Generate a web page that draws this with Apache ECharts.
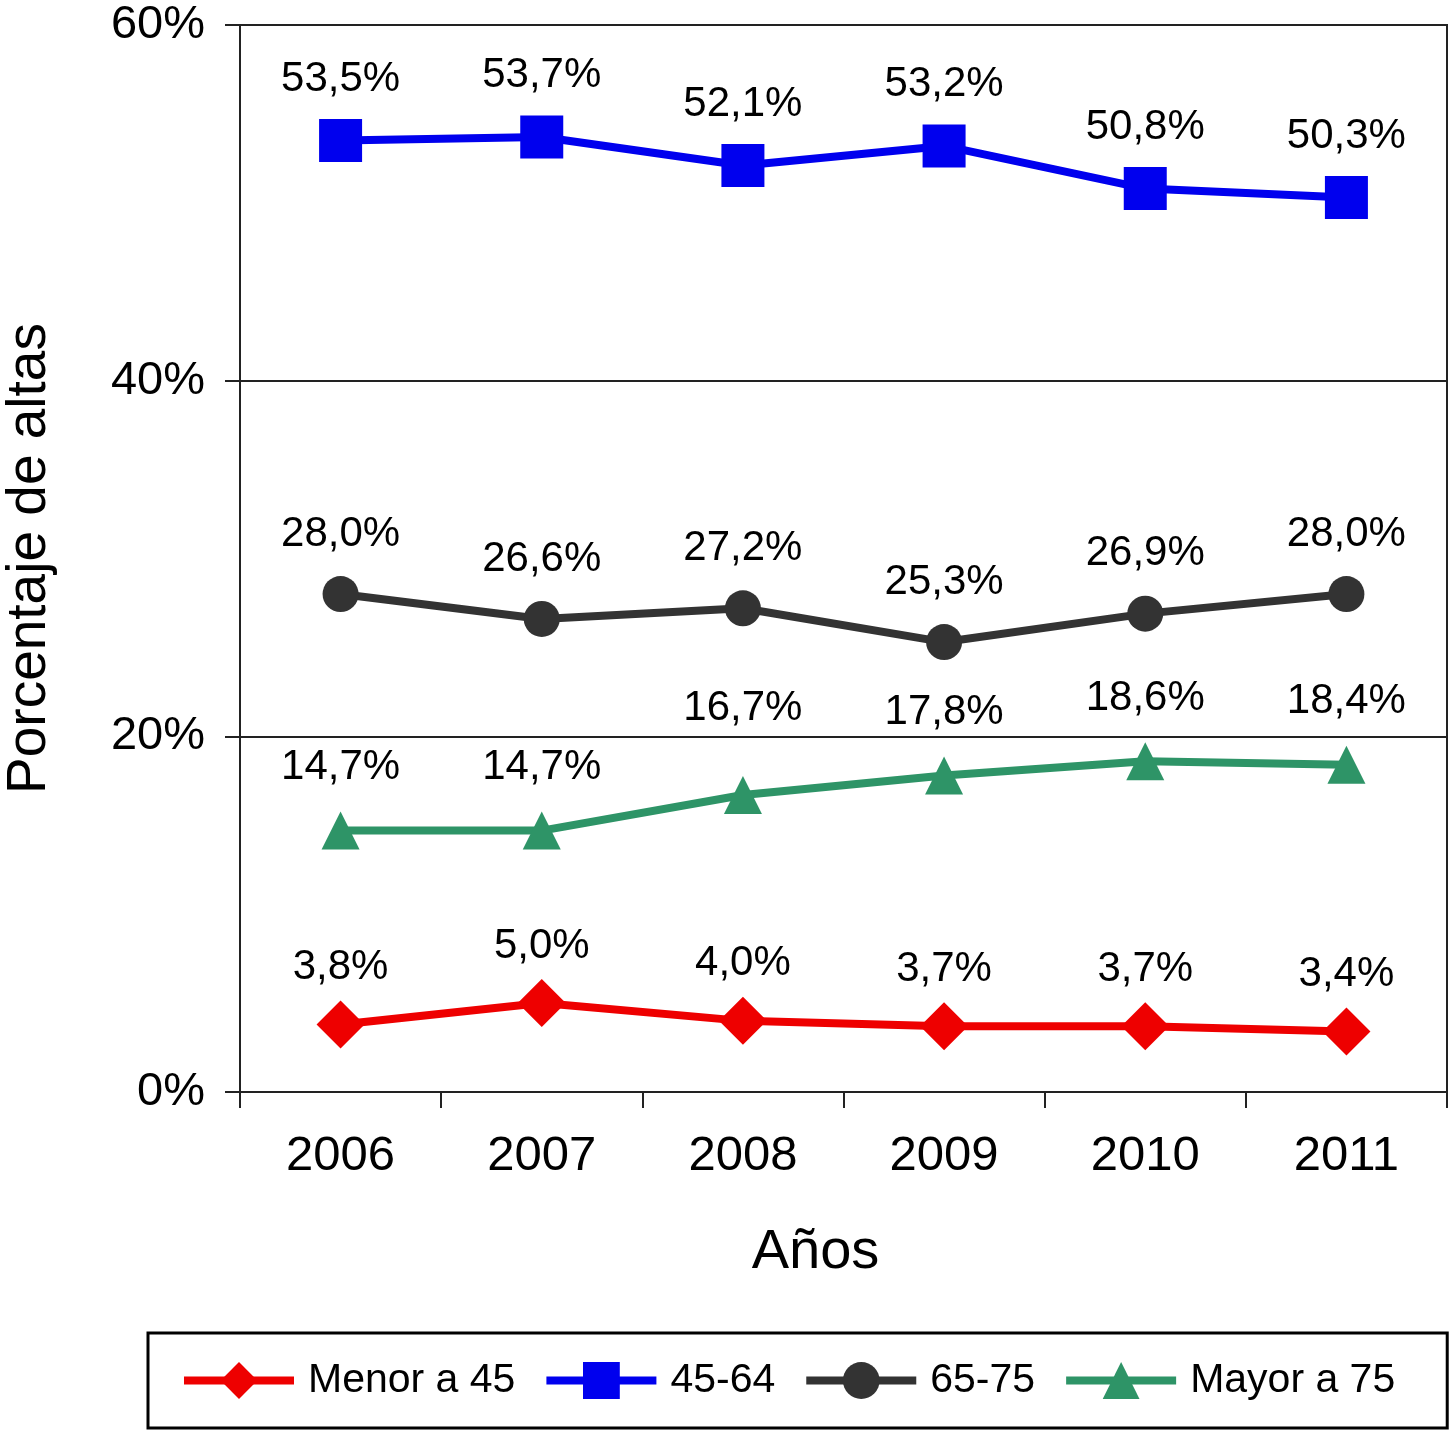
<!DOCTYPE html>
<html>
<head>
<meta charset="utf-8">
<script src="https://cdn.jsdelivr.net/npm/echarts@6/dist/echarts.min.js"></script>
<style>
html,body{margin:0;padding:0;background:#fff;}
#chart{width:1451px;height:1431px;}
</style>
</head>
<body>
<div id="chart"></div>
<script>
const years = ['2006', '2007', '2008', '2009', '2010', '2011'];
const menor45 = [3.8, 5.0, 4.0, 3.7, 3.7, 3.4];
const g45_64 = [53.5, 53.7, 52.1, 53.2, 50.8, 50.3];
const g65_75 = [28.0, 26.6, 27.2, 25.3, 26.9, 28.0];
const mayor75 = [14.7, 14.7, 16.7, 17.8, 18.6, 18.4];
const yTicks = [0, 20, 40, 60];

const FONT = '"Liberation Sans", Arial, Helvetica, sans-serif';
const fmt = p => p.value.toFixed(1).replace('.', ',') + '%';

function mkSeries(name, data, color, symbol, size, dist, overrides) {
  return {
    name: name,
    type: 'line',
    data: data.map((v, i) => {
      const item = { value: v };
      if (overrides && overrides[i] !== undefined) item.label = { distance: overrides[i] };
      return item;
    }),
    symbol: symbol,
    symbolSize: size,
    lineStyle: { color: color, width: 8 },
    itemStyle: { color: color },
    label: {
      show: true, position: 'top', distance: dist,
      formatter: fmt, fontSize: 42, color: '#000', fontFamily: FONT
    },
    emphasis: { disabled: true }
  };
}

const chart = echarts.init(document.getElementById('chart'), null, { renderer: 'canvas' });
chart.setOption({
  animation: false,
  backgroundColor: '#fff',
  grid: {
    left: 240, right: 4, top: 25, bottom: 339,
    outerBoundsMode: 'none',
    containLabel: false,
    show: true, borderColor: '#222', borderWidth: 2, backgroundColor: 'transparent'
  },
  xAxis: {
    type: 'category',
    data: years,
    boundaryGap: true,
    name: 'Años',
    nameLocation: 'middle',
    nameGap: 133,
    nameTextStyle: { fontSize: 56, color: '#000', fontFamily: FONT, padding: [0, 56, 0, 0] },
    axisLine: { lineStyle: { color: '#222', width: 2 } },
    axisTick: { show: true, length: 16, interval: 0, lineStyle: { color: '#222', width: 2 } },
    axisLabel: { margin: 40, fontSize: 49, color: '#000', fontFamily: FONT }
  },
  yAxis: {
    type: 'value',
    min: yTicks[0], max: yTicks[yTicks.length - 1], interval: 20,
    name: 'Porcentaje de altas',
    nameLocation: 'middle',
    nameGap: 183,
    nameTextStyle: { fontSize: 55, color: '#000', fontFamily: FONT },
    axisLine: { show: true, lineStyle: { color: '#222', width: 2 } },
    axisTick: { show: true, length: 15, lineStyle: { color: '#222', width: 2 } },
    splitLine: { show: true, lineStyle: { color: '#222', width: 2 } },
    axisLabel: { margin: 35, fontSize: 47, color: '#000', fontFamily: FONT, formatter: '{value}%' }
  },
  legend: {
    left: 148, bottom: 3, width: 1299,
    orient: 'horizontal',
    borderColor: '#000', borderWidth: 3,
    padding: [27, 52, 27, 32],
    itemWidth: 110, itemHeight: 46, itemGap: 27,
    lineStyle: { width: 8 },
    textStyle: { fontSize: 41, color: '#000', fontFamily: FONT, padding: [0, 0, 0, 9] },
    data: ['Menor a 45', '45-64', '65-75', 'Mayor a 75']
  },
  series: [
    mkSeries('Menor a 45', menor45, '#ee0000', 'diamond', 48, 12),
    mkSeries('45-64', g45_64, '#0000ee', 'rect', 43, 19),
    mkSeries('65-75', g65_75, '#333333', 'circle', 36, 21),
    mkSeries('Mayor a 75', mayor75, '#2e9467', 'triangle', 38, 23, {2: 47})
  ]
});
</script>
</body>
</html>
